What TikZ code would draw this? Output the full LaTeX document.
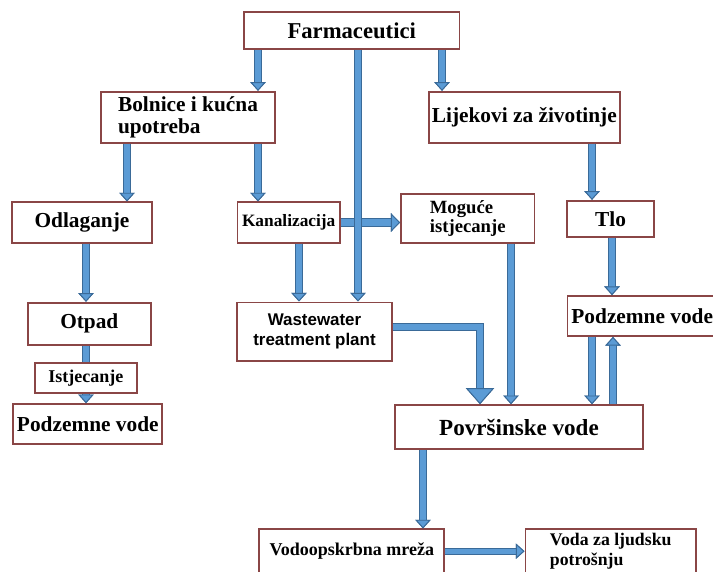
\documentclass[tikz,border=0pt]{standalone}
\usepackage{fontspec}
\setmainfont{Liberation Serif}
\newfontfamily\sansfont{Liberation Sans}
\usetikzlibrary{arrows.meta,positioning}
\definecolor{boxred}{HTML}{8A4646}
\definecolor{flowblue}{HTML}{5B9BD5}
\definecolor{flowedge}{HTML}{3A6A98}
\newcommand{\boxfont}[2]{\fontsize{#1}{#2}\selectfont\bfseries}
\tikzset{%
	box/.style      = {draw=boxred, line width=1.3pt, fill=white, inner sep=1pt, align=center},
	flowline/.style = {draw=flowblue, line width=3.8pt, preaction={draw=flowedge, line width=5.3pt}},
	flow/.style     = {flowline, -{Triangle[width=11.5pt, length=6.5pt, line width=0.7pt, color=flowedge, fill=flowblue]}},
	wideflow/.style = {draw=flowblue, line width=5.8pt, preaction={draw=flowedge, line width=7.3pt},
	                   -{Triangle[width=14pt, length=7pt, line width=0.7pt, color=flowedge, fill=flowblue]}},
	bigflow/.style  = {draw=flowblue, line width=4.8pt, line join=miter, preaction={draw=flowedge, line width=6.3pt, line join=miter},
	                   -{Triangle[width=21pt, length=12pt, line width=0.7pt, color=flowedge, fill=flowblue]}},
}

\begin{document}
\begin{tikzpicture}[x=0.75pt,y=-0.75pt]
	\fill [white] (0,0) rectangle (713,571);
	\useasboundingbox (0,0) rectangle (713,571);

	% sources
	\node [box, minimum width=161.5pt, minimum height=27.75pt, font=\boxfont{17}{20}] (farm) at (351.7,30.8) {Farmaceutici};
	\node [box, minimum width=131pt, minimum height=38.25pt, font=\boxfont{16}{16.5}, align=left] (bolnice) at (188,117.2) {Bolnice i kućna\\upotreba};
	\node [box, minimum width=143.5pt, minimum height=38.25pt, font=\boxfont{16}{18}] (lijek) at (524.3,117.2) {Lijekovi za životinje};

	% pathways
	\node [box, minimum width=104.5pt, minimum height=30.3pt, font=\boxfont{16}{18}] (odlag) at (82,222.5) {Odlaganje};
	\node [box, minimum width=77pt, minimum height=30.3pt, font=\boxfont{13}{15}] (kanal) at (288.7,222.5) {Kanalizacija};
	\node [box, minimum width=100pt, minimum height=36.75pt, font=\boxfont{14}{14.25}, align=left] (moguce) at (467.7,218.8) {Moguće\\istjecanje};
	\node [box, minimum width=65.7pt, minimum height=27pt, font=\boxfont{16}{18}] (tlo) at (610.5,218.7) {Tlo};
	\node [box, minimum width=92.5pt, minimum height=31.7pt, font=\boxfont{16}{18}] (otpad) at (89.3,323.8) {Otpad};
	\node [box, minimum width=115.8pt, minimum height=44pt, font={\sansfont\boxfont{12.7}{15}}] (wwtp) at (314.5,331.7) {Wastewater\\treatment plant};
	\node [box, anchor=west, minimum width=112pt, minimum height=30pt, font=\boxfont{16}{18}] (podR) at (566.7,316) {Podzemne vode};
	\node [box, minimum width=76.3pt, minimum height=22.5pt, font=\boxfont{13.5}{15}] (istj) at (85.8,378.3) {Istjecanje};
	\node [box, minimum width=111.75pt, minimum height=30.2pt, font=\boxfont{16}{18}] (podL) at (87.8,424.2) {Podzemne vode};

	% receiving waters
	\node [box, minimum width=185.5pt, minimum height=33.2pt, font=\boxfont{17.3}{19}] (povrs) at (519,427.2) {Površinske vode};
	\node [box, minimum width=138.75pt, minimum height=32.8pt, font=\boxfont{13.5}{15}] (vodoop) at (351.8,551.2) {Vodoopskrbna mreža};
	\node [box, minimum width=128pt, minimum height=32.8pt, font=\boxfont{13.3}{15}, align=left] (voda) at (610.7,551.2) {Voda za ljudsku\\potrošnju};

	\draw [flow] (farm.south -| 258,0) -- (bolnice.north -| 258,0);
	\draw [flow] (farm.south -| 442,0) -- (lijek.north -| 442,0);
	\draw [flow] (bolnice.south -| 127,0) -- (odlag.north -| 127,0);
	\draw [flow] (bolnice.south -| 258,0) -- (kanal.north -| 258,0);
	\draw [flow] (lijek.south -| 592,0) -- (tlo.north -| 592,0);
	\draw [wideflow] (kanal.east) -- (moguce.west |- kanal.east);
	\draw [flow] (farm.south -| 358,0) -- (wwtp.north -| 358,0);
	\draw [flow] (kanal.south -| 299,0) -- (wwtp.north -| 299,0);
	\draw [flow] (odlag.south -| 86,0) -- (otpad.north -| 86,0);
	\draw [flowline] (otpad.south -| 86,0) -- (istj.north -| 86,0);
	\draw [flow] (istj.south -| 86,0) -- (podL.north -| 86,0);
	\draw [flow] (tlo.south -| 612,0) -- (podR.north -| 612,0);
	\draw [bigflow] (wwtp.east |- 0,327) -| (povrs.north -| 480,0);
	\draw [flow] (moguce.south -| 511,0) -- (povrs.north -| 511,0);
	\draw [flow] (podR.south -| 592,0) -- (povrs.north -| 592,0);
	\draw [flow] (povrs.north -| 613,0) -- (podR.south -| 613,0);
	\draw [flow] (povrs.south -| 423,0) -- (vodoop.north -| 423,0);
	\draw [flow] (vodoop.east) -- (voda.west |- vodoop.east);
\end{tikzpicture}
\end{document}
